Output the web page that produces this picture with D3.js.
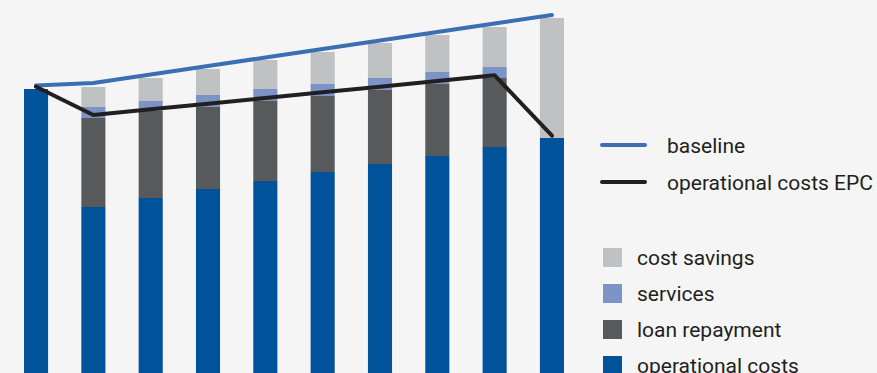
<!DOCTYPE html>
<html>
<head>
<meta charset="utf-8">
<script src="https://cdn.jsdelivr.net/npm/d3@7"></script>
<style>
  body { margin: 0; background: #f5f5f5; }
  svg { display: block; }
  text { font-family: Roboto, "DejaVu Sans", sans-serif; fill: #231f20; }
</style>
</head>
<body>
<div id="chart"></div>
<script>
var svgWidth = 877;
var svgHeight = 373;

// years of the contract
var periods = ["0", "1", "2", "3", "4", "5", "6", "7", "8", "9"];

// stacked values (arbitrary units)
var operationalCosts = [284, 166, 175, 184, 192, 201, 209, 217, 226, 235];
var loanRepayment = [0, 89, 87, 82, 80, 76, 74, 72, 69, 0];
var services = [0, 11, 10, 12, 12, 12, 12, 12, 11, 0];
var costSavings = [0, 20, 23, 26, 29, 32, 35, 37, 40, 120];

// lines
var baseline = [287.5, 290, 298.5, 307, 315.5, 324, 332.5, 341, 349.5, 358];
var epcCosts = [286.3, 258, 263.7, 269.3, 275, 280.7, 286.3, 292, 297.7, 237.3];

var stackKeys = ["operational", "loan", "services", "savings"];
var stackLabels = ["operational costs", "loan repayment", "services", "cost savings"];
var stackColors = ["#00529b", "#58595b", "#7b93c6", "#c0c1c3"];

var tableData = periods.map(function(p, i) {
    return {
        period: p,
        operational: operationalCosts[i],
        loan: loanRepayment[i],
        services: services[i],
        savings: costSavings[i]
    };
});

var svg = d3.select("#chart")
    .append("svg")
    .attr("width", svgWidth)
    .attr("height", svgHeight);

svg.append("rect")
    .attr("width", svgWidth)
    .attr("height", svgHeight)
    .attr("fill", "#f5f5f5");

var xScale = d3.scaleBand()
    .domain(periods)
    .range([24, 564])
    .paddingInner(0.58)
    .paddingOuter(0);

var yScale = d3.scaleLinear()
    .domain([0, 373])
    .range([373, 0]);

var series = d3.stack().keys(stackKeys)(tableData);

svg.append("g")
    .selectAll("g")
    .data(series)
    .enter()
    .append("g")
    .attr("fill", function(d, i) { return stackColors[i]; })
    .selectAll("rect")
    .data(function(d) { return d; })
    .enter()
    .append("rect")
    .attr("x", function(d) { return xScale(d.data.period); })
    .attr("y", function(d) { return yScale(d[1]); })
    .attr("width", xScale.bandwidth())
    .attr("height", function(d) { return yScale(d[0]) - yScale(d[1]); });

var line = d3.line()
    .x(function(d, i) { return xScale(periods[i]) + xScale.bandwidth() / 2; })
    .y(function(d) { return yScale(d); });

svg.append("path")
    .datum(baseline)
    .attr("d", line)
    .attr("fill", "none")
    .attr("stroke", "#3a6fb2")
    .attr("stroke-width", 4)
    .attr("stroke-linecap", "round")
    .attr("stroke-linejoin", "round");

svg.append("path")
    .datum(epcCosts)
    .attr("d", line)
    .attr("fill", "none")
    .attr("stroke", "#231f20")
    .attr("stroke-width", 4)
    .attr("stroke-linecap", "round")
    .attr("stroke-linejoin", "round");

// legend - lines
var lineLegend = [
    { label: "baseline", color: "#3a6fb2" },
    { label: "operational costs EPC", color: "#231f20" }
];
var lineItems = svg.append("g")
    .selectAll("g")
    .data(lineLegend)
    .enter()
    .append("g")
    .attr("transform", function(d, i) { return "translate(600," + (145 + i * 37) + ")"; });
lineItems.append("line")
    .attr("x1", 2)
    .attr("x2", 45)
    .attr("stroke", function(d) { return d.color; })
    .attr("stroke-width", 4)
    .attr("stroke-linecap", "round");
lineItems.append("text")
    .attr("x", 67)
    .attr("y", 8)
    .style("font-size", "21px")
    .text(function(d) { return d.label; });

// legend - boxes (top to bottom)
var boxOrder = [3, 2, 1, 0];
var boxItems = svg.append("g")
    .selectAll("g")
    .data(boxOrder)
    .enter()
    .append("g")
    .attr("transform", function(d, i) { return "translate(603," + (248 + i * 36) + ")"; });
boxItems.append("rect")
    .attr("width", 19)
    .attr("height", 19)
    .attr("fill", function(d) { return stackColors[d]; });
boxItems.append("text")
    .attr("x", 34)
    .attr("y", 17)
    .style("font-size", "21px")
    .text(function(d) { return stackLabels[d]; });
</script>
</body>
</html>
